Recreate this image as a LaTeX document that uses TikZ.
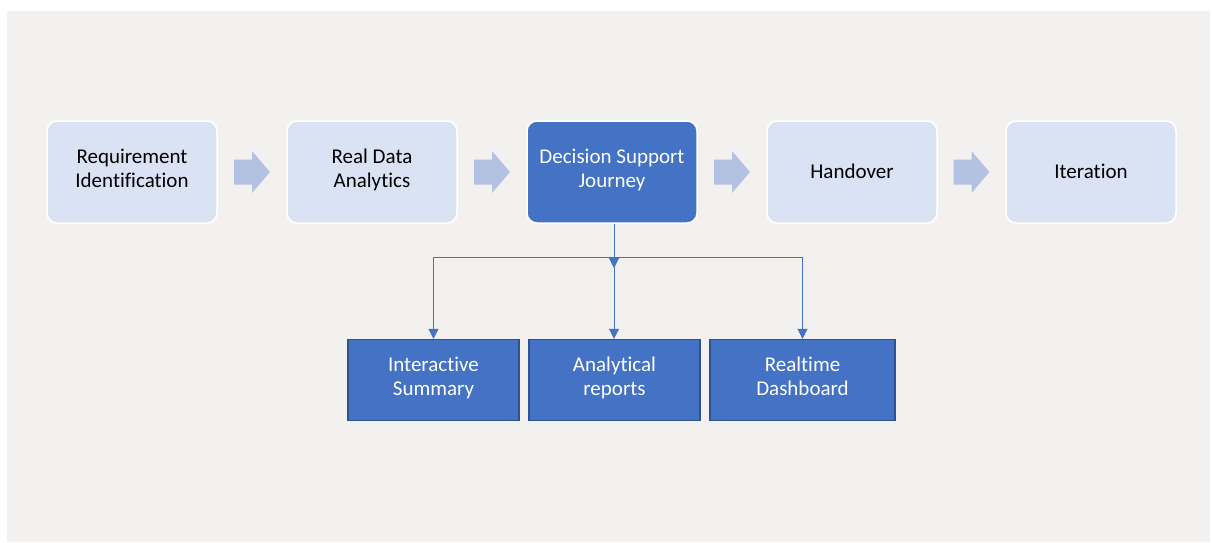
\documentclass[tikz,border=0pt]{standalone}
\usepackage{fontspec}
\setmainfont[Ligatures={NoCommon,NoRare}]{Carlito}
\usetikzlibrary{arrows.meta}
\definecolor{canvas}{HTML}{F2F1EF}
\definecolor{paleblue}{HTML}{DAE3F3}
\definecolor{accent}{HTML}{4472C4}
\definecolor{accentdark}{HTML}{2F528F}
\definecolor{chevron}{HTML}{B4C2E2}
\tikzset{
  txt/.style={font=\fontsize{21}{24}\selectfont, align=center,
    execute at begin node=\rule{0pt}{20.8pt},
    execute at end node=\rule[-7.2pt]{0pt}{7.2pt}},
  phase/.style={txt, rectangle, rounded corners=10pt, minimum width=170pt,
    minimum height=102pt, draw=white, line width=1.5pt, fill=paleblue, text=black},
  current/.style={phase, fill=accent, text=white},
  output/.style={txt, rectangle, minimum height=81pt, draw=accentdark,
    line width=1.4pt, fill=accent, text=white},
  link/.style={draw=accent, line width=1pt, -{Triangle[width=10pt,length=10pt]}},
  flow/.pic={\fill[chevron] (-18,-12.5) -- (0,-12.5) -- (0,-21) -- (18,0)
      -- (0,21) -- (0,12.5) -- (-18,12.5) -- cycle;}
}
\begin{document}
\begin{tikzpicture}[x=1pt,y=-1pt]
  \useasboundingbox (0,0) rectangle (1212,542);
  \fill[canvas] (7,11) rectangle (1210,542);

  % main process
  \node[phase]   (req) at (132,172)  {Requirement\\Identification};
  \node[phase]   (rda) at (372,172)  {Real Data\\Analytics};
  \node[current] (dsj) at (612,172)  {Decision Support\\Journey};
  \node[phase]   (hnd) at (852,172)  {Handover};
  \node[phase]   (itr) at (1091,172) {Iteration};

  % chevrons between the phases
  \path (req.east) -- (rda.west) pic[pos=0.5] {flow};
  \path (rda.east) -- (dsj.west) pic[pos=0.5] {flow};
  \path (dsj.east) -- (hnd.west) pic[pos=0.5] {flow};
  \path (hnd.east) -- (itr.west) pic[pos=0.5] {flow};

  % deliverables
  \node[output, minimum width=171pt] (sum) at (433.5,380) {Interactive\\Summary};
  \node[output, minimum width=171pt] (rep) at (614.5,380) {Analytical\\reports};
  \node[output, minimum width=185pt] (rt)  at (802.5,380) {Realtime\\Dashboard};

  % branching connectors
  \coordinate (bus) at (614,257);
  \coordinate (drop) at (614,268);
  \draw[link] (dsj.south -| bus) -- (drop);
  \draw[link] (bus) -| (sum.north);
  \draw[link] (bus) -- (rep.north -| bus);
  \draw[link] (bus) -| (rt.north);
\end{tikzpicture}
\end{document}
